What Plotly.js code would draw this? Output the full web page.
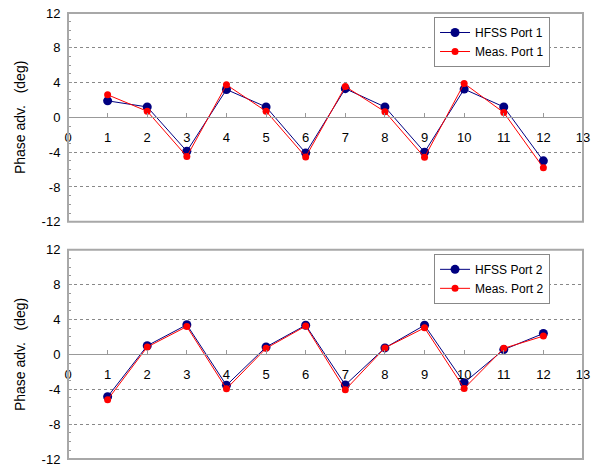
<!DOCTYPE html>
<html>
<head>
<meta charset="utf-8">
<script src="https://cdn.plot.ly/plotly-3.0.1.min.js"></script>
<style>html,body{margin:0;padding:0;background:#fff;}#chart{width:591px;height:466px;}</style>
</head>
<body>
<div id="chart"></div>
<script>
// Data
const positions = [1, 2, 3, 4, 5, 6, 7, 8, 9, 10, 11, 12];
const hfssPort1 = [1.9, 1.2, -3.9, 3.2, 1.2, -4.1, 3.3, 1.2, -4.0, 3.25, 1.2, -5.0];
const measPort1 = [2.6, 0.7, -4.5, 3.75, 0.7, -4.55, 3.55, 0.65, -4.6, 3.9, 0.55, -5.8];
const hfssPort2 = [-4.85, 1.0, 3.4, -3.55, 0.85, 3.35, -3.5, 0.75, 3.35, -3.25, 0.55, 2.4];
const measPort2 = [-5.2, 0.85, 3.2, -3.95, 0.7, 3.25, -4.05, 0.75, 3.05, -3.9, 0.7, 2.1];
const xTickVals = [0,1,2,3,4,5,6,7,8,9,10,11,12,13];
const yTickVals = [-12,-8,-4,0,4,8,12];

const NAVY = '#000080', RED = '#ff0000';
const FONT = 'Arial, "Liberation Sans", sans-serif';

function tr(y, name, color, size, xa, ya, leg) {
  return {
    x: positions, y: y, name: name, type: 'scatter', mode: 'lines+markers',
    line: {color: color, width: 1},
    marker: {color: color, size: size},
    xaxis: xa, yaxis: ya, legend: leg, cliponaxis: false
  };
}
const data = [
  tr(hfssPort1, 'HFSS Port 1', NAVY, 9, 'x', 'y', 'legend'),
  tr(measPort1, 'Meas. Port 1', RED, 7, 'x', 'y', 'legend'),
  tr(hfssPort2, 'HFSS Port 2', NAVY, 9, 'x2', 'y2', 'legend2'),
  tr(measPort2, 'Meas. Port 2', RED, 7, 'x2', 'y2', 'legend2')
];

const topDom = [0.532, 1];
const botDom = [0, 0.469];

function xax(pos) {
  return {
    domain: [0, 1], range: [0, 13], anchor: 'free', position: pos,
    tickvals: xTickVals, ticktext: xTickVals.map(String),
    showgrid: false, zeroline: false, showline: true, linecolor: '#999', linewidth: 1,
    ticks: 'inside', ticklen: 4, tickcolor: '#999',
    tickfont: {family: FONT, size: 13, color: '#000'},
    ticklabelstandoff: 8, ticklabeloverflow: 'allow',
    fixedrange: true
  };
}
function yax(dom, xanchor) {
  return {
    domain: dom, range: [-12, 12], anchor: xanchor,
    tickvals: yTickVals, ticktext: yTickVals.map(String),
    showgrid: true, gridcolor: '#888', griddash: 'dot', gridwidth: 1,
    zeroline: true, zerolinecolor: '#999', zerolinewidth: 1,
    showline: true, linecolor: '#999', linewidth: 1,
    ticks: 'inside', ticklen: 4, tickcolor: '#999',
    minor: {dtick: 1, ticks: 'inside', ticklen: 3, tickcolor: '#999', showgrid: false},
    tickfont: {family: FONT, size: 13, color: '#000'},
    ticklabelstandoff: 4, ticklabeloverflow: 'allow',
    title: {text: 'Phase adv.\u00a0\u00a0 (deg)', font: {family: FONT, size: 14, color: '#000'}, standoff: 12},
    fixedrange: true
  };
}

const legendStyle = (ytop) => ({
  x: 0.936, xanchor: 'right', y: ytop, yanchor: 'top',
  bgcolor: '#fff', bordercolor: '#888', borderwidth: 1,
  font: {family: FONT, size: 12, color: '#000'},
  tracegroupgap: 0, itemwidth: 30
});

const frame = (dom) => ({
  type: 'rect', xref: 'paper', yref: 'paper', x0: 0, x1: 1, y0: dom[0], y1: dom[1],
  line: {color: '#a8a8a8', width: 2}, fillcolor: 'rgba(0,0,0,0)', layer: 'above'
});

const layout = {
  width: 591, height: 466,
  margin: {l: 68, r: 8, t: 13, b: 7},
  paper_bgcolor: '#fff', plot_bgcolor: '#fff',
  showlegend: true,
  xaxis: xax(0.766), xaxis2: xax(0.2345),
  yaxis: yax(topDom, 'x'), yaxis2: yax(botDom, 'x2'),
  legend: legendStyle(0.991),
  legend2: legendStyle(0.46),
  shapes: [frame(topDom), frame(botDom)],
  font: {family: FONT}
};

Plotly.newPlot('chart', data, layout, {displayModeBar: false, staticPlot: true});
</script>
</body>
</html>
